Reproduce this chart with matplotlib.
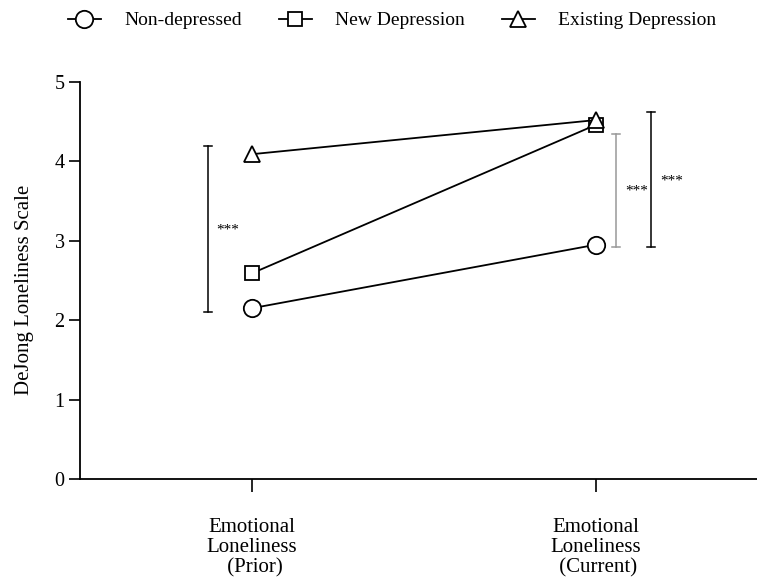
import matplotlib
matplotlib.use("Agg")
import matplotlib.pyplot as plt
from matplotlib.lines import Line2D

plt.rcParams['font.family'] = ['Liberation Serif', 'DejaVu Serif']

categories = ["Emotional\nLoneliness\n (Prior)", "Emotional\nLoneliness\n (Current)"]
groups = ["Non-depressed", "New Depression", "Existing Depression"]
non_depressed = [2.15, 2.95]
new_depression = [2.59, 4.46]
existing_depression = [4.09, 4.52]
yticks = [0, 1, 2, 3, 4, 5]

# significance brackets: (x, y_low, y_high, color, star_x, star_y)
brackets = [
    (-0.128, 2.10, 4.19, "black", -0.07, 3.14),
    (1.058, 2.92, 4.34, "#999999", 1.119, 3.63),
    (1.160, 2.92, 4.62, "black", 1.221, 3.75),
]

fig = plt.figure(figsize=(7.57, 5.77), dpi=100)
ax = fig.add_axes([0.1057, 0.170, 0.8943, 0.688])

x = [0, 1]
ms = {"o": 12.5, "s": 10, "^": 12}
for vals, mk in [(non_depressed, "o"), (new_depression, "s"), (existing_depression, "^")]:
    ax.plot(x, vals, color="black", lw=1.3, marker=mk, markersize=ms[mk],
            markerfacecolor="white", markeredgecolor="black", markeredgewidth=1.3, zorder=3)

for bx, lo, hi, col, sx, sy in brackets:
    ax.plot([bx, bx], [lo, hi], color=col, lw=1.1, zorder=2)
    cap = 0.011
    ax.plot([bx - cap, bx + cap], [lo, lo], color=col, lw=1.1)
    ax.plot([bx - cap, bx + cap], [hi, hi], color=col, lw=1.1)
    ax.text(sx, sy, "***", ha="center", va="center", fontsize=11)

ax.set_xlim(-0.5, 1.468)
ax.set_ylim(0, 5)
ax.set_yticks(yticks)
ax.set_xticks(x)
ax.set_xticklabels(categories, fontsize=15, linespacing=1.08)
ax.tick_params(axis="y", labelsize=14.5, length=8, width=1.2, direction="out", pad=3)
ax.tick_params(axis="x", length=9, width=1.2, direction="out", pad=19)
for s in ["top", "right"]:
    ax.spines[s].set_visible(False)
for s in ["left", "bottom"]:
    ax.spines[s].set_linewidth(1.3)
ax.set_ylabel("DeJong Loneliness Scale", fontsize=15)
ax.yaxis.set_label_coords(-0.068, 0.475)

handles = [Line2D([], [], color="black", lw=1.3, marker=m, markersize=ms[m],
                  markerfacecolor="white", markeredgecolor="black", markeredgewidth=1.3)
           for m in ["o", "s", "^"]]
fig.legend(handles, groups, loc="upper center", bbox_to_anchor=(0.518, 1.01), ncol=3,
           frameon=False, fontsize=14, handlelength=1.7, columnspacing=1.9,
           handletextpad=1.2)

fig.savefig("out.png", dpi=100)
